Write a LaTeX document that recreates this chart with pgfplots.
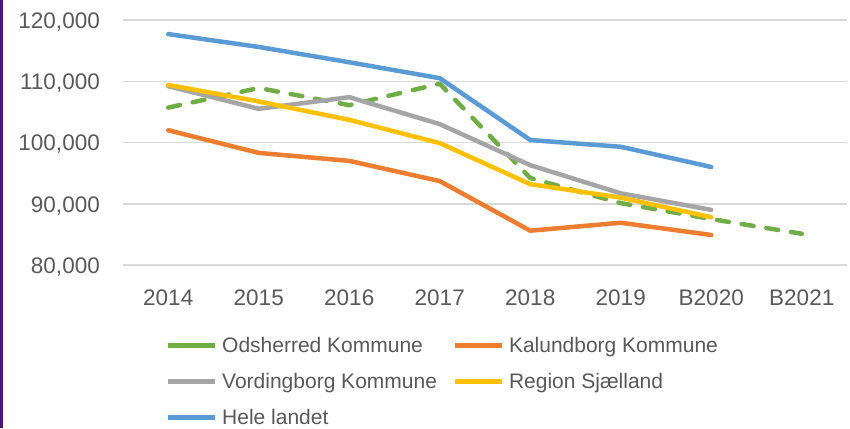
\documentclass[border=0pt]{standalone}
\usepackage{pgfplots}
\pgfplotsset{compat=1.18}
\usepackage{fontspec}
\setmainfont{Liberation Sans}
\definecolor{cgreen}{HTML}{70AD47}
\definecolor{corange}{HTML}{ED7D31}
\definecolor{cgray}{HTML}{A5A5A5}
\definecolor{cyellow}{HTML}{FFC000}
\definecolor{cblue}{HTML}{5B9BD5}
\definecolor{cgrid}{HTML}{D9D9D9}
\definecolor{ctext}{HTML}{595959}
\definecolor{cpurple}{RGB}{75,20,125}
\begin{document}
\begin{tikzpicture}
\path[use as bounding box] (-123pt,-163pt) rectangle (727pt,265pt);
\fill[cpurple] (-123pt,-163pt) rectangle (-120pt,265pt);
\begin{axis}[
  at={(0pt,0pt)}, anchor=south west,
  scale only axis, width=724pt, height=245pt,
  xmin=-0.5, xmax=7.5, ymin=80000, ymax=120000,
  xtick={0,1,2,3,4,5,6,7},
  xticklabels={2014,2015,2016,2017,2018,2019,B2020,B2021},
  ytick={80000,90000,100000,110000,120000},
  yticklabels={{80,000},{90,000},{100,000},{110,000},{120,000}},
  scaled y ticks=false,
  axis line style={draw=none}, tick style={draw=none},
  ymajorgrids, grid style={color=cgrid, line width=1.5pt},
  tick label style={font=\fontsize{22.5}{27}\selectfont, text=ctext},
  yticklabel style={anchor=base east, inner sep=0pt, xshift=-23pt, yshift=-8.3pt},
  xticklabel style={anchor=base, inner sep=0pt, yshift=-40pt},
  clip=false,
  every axis plot/.append style={line width=4.5pt, line join=round, line cap=round},
  legend columns=2,
  legend cell align=left,
  legend style={draw=none, fill=none, at={(0,0)}, anchor=north west,
    xshift=45pt, yshift=-72.5pt, inner sep=0pt, row sep=21pt,
    font=\fontsize{21}{25}\selectfont, text=ctext,
    nodes={inner sep=0pt, text height=15pt, text depth=0pt},
    /tikz/every odd column/.append style={column sep=7pt},
    /tikz/every even column/.append style={column sep=18pt}},
  legend image code/.code={\fill[#1, solid, draw=none] (0pt,-2.6pt) rectangle (47pt,2.6pt);},
]
\addplot[cgreen, dash pattern=on 12pt off 13pt, forget plot] coordinates {
(0,105700) (1,108900) (2,106100) (3,109600) (4,94200) (5,90100) (6,87500) (7,85100)};
\addlegendimage{cgreen}
\addlegendentry{Odsherred Kommune}
\addplot[corange] coordinates {
(0,102000) (1,98300) (2,97000) (3,93700) (4,85600) (5,86900) (6,84900)};
\addlegendentry{Kalundborg Kommune}
\addplot[cgray] coordinates {
(0,109200) (1,105500) (2,107400) (3,103000) (4,96300) (5,91700) (6,89000)};
\addlegendentry{Vordingborg Kommune}
\addplot[cyellow] coordinates {
(0,109400) (1,106700) (2,103700) (3,99900) (4,93200) (5,91000) (6,87800)};
\addlegendentry{Region Sjælland}
\addplot[cblue] coordinates {
(0,117700) (1,115600) (2,113100) (3,110500) (4,100400) (5,99300) (6,96000)};
\addlegendentry{Hele landet}
\end{axis}
\end{tikzpicture}
\end{document}
